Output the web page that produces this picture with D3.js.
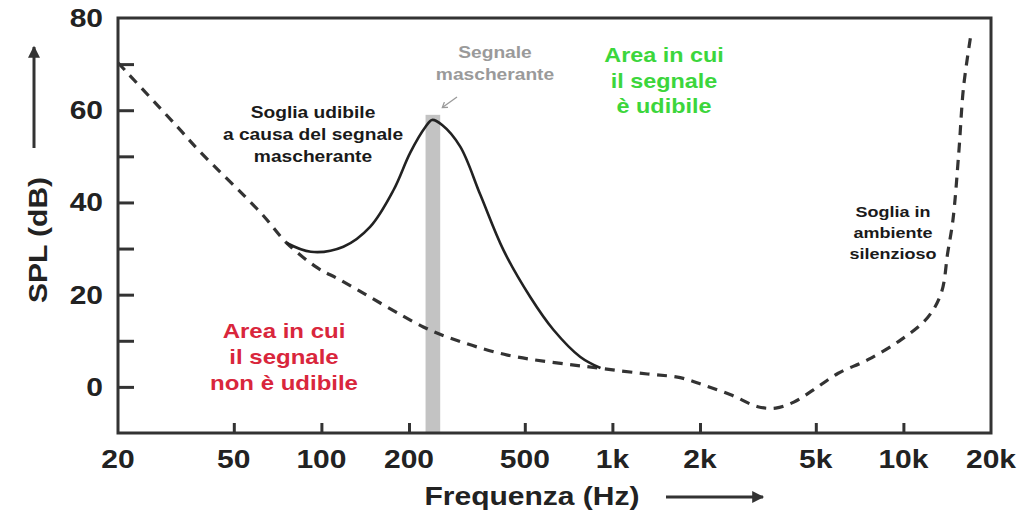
<!DOCTYPE html>
<html>
<head>
<meta charset="utf-8">
<script src="https://cdn.jsdelivr.net/npm/d3@7"></script>
<style>
  html, body { margin: 0; padding: 0; background: #fff; }
  svg text { font-family: "Liberation Sans", Arial, Helvetica, sans-serif; font-weight: bold; }
</style>
</head>
<body>
<svg id="chart" width="1021" height="516"></svg>
<script>
// Threshold of hearing in quiet (dashed curve)
const quietFreq = [20, 32, 38, 62, 76, 97, 116, 224, 277, 436, 888, 1320, 1710, 2060, 2550, 3160, 3640, 4200, 4920, 5950, 7550, 9800, 12100, 13500, 14200, 14800, 15500, 16100, 17100];
const quietDb   = [70.3, 56.4, 51.2, 37.7, 31.2, 25.8, 23.2, 13.0, 10.6, 6.9, 4.1, 2.8, 2.0, 0.4, -1.7, -4.3, -4.6, -3.3, -0.6, 2.9, 5.9, 10.2, 15.0, 20.4, 29.1, 36.2, 50.8, 65.1, 76.8];

// Raised threshold caused by the masking tone (solid curve)
const maskedFreq = [76, 92, 119, 147, 177, 202, 228, 240, 260, 300, 352, 422, 522, 627, 776, 910];
const maskedDb   = [31.2, 29.3, 30.4, 34.7, 42.7, 50.8, 56.4, 57.9, 56.8, 52.1, 41.6, 29.7, 19.5, 12.4, 6.5, 4.1];

// Masking tone: frequency band and level
const maskerBand = [228, 256];
const maskerLevel = 59;

// Axis ticks
const xTickValues = [20, 50, 100, 200, 500, 1000, 2000, 5000, 10000, 20000];
const xTickLabels = ["20", "50", "100", "200", "500", "1k", "2k", "5k", "10k", "20k"];
const yTickValues = [0, 10, 20, 30, 40, 50, 60, 70];
const yLabelValues = [0, 20, 40, 60, 80];

const svg = d3.select("#chart");
const STRETCH = 1.2;   // wide lettering
const dark = "#333";

const x = d3.scaleLog().domain([20, 20000]).range([118, 991]);
const y = d3.scaleLinear().domain([-10, 80]).range([433, 18]);

// text helper: multi-line, centred, horizontally widened
function words(g, cx, baselines, lines, size, color, anchor = "middle") {
  lines.forEach((t, i) => {
    g.append("text")
      .attr("transform", `translate(${cx},${baselines[i]}) scale(${STRETCH},1)`)
      .attr("text-anchor", anchor)
      .attr("font-size", size)
      .attr("fill", color)
      .text(t);
  });
}

// masking tone bar
svg.append("rect")
  .attr("x", x(maskerBand[0]))
  .attr("width", x(maskerBand[1]) - x(maskerBand[0]))
  .attr("y", y(maskerLevel))
  .attr("height", y(-10) - y(maskerLevel))
  .attr("fill", "#c3c3c3");

const line = d3.line()
  .x(d => x(d[0]))
  .y(d => y(d[1]))
  .curve(d3.curveCatmullRom.alpha(0.5));

// quiet threshold
svg.append("path")
  .datum(quietFreq.map((f, i) => [f, quietDb[i]]))
  .attr("d", line)
  .attr("fill", "none")
  .attr("stroke", dark)
  .attr("stroke-width", 3.2)
  .attr("stroke-dasharray", "10 7.5");

// masked threshold
svg.append("path")
  .datum(maskedFreq.map((f, i) => [f, maskedDb[i]]))
  .attr("d", line)
  .attr("fill", "none")
  .attr("stroke", "#222")
  .attr("stroke-width", 2.6);

// frame
svg.append("rect")
  .attr("x", x.range()[0]).attr("y", y.range()[1])
  .attr("width", x.range()[1] - x.range()[0])
  .attr("height", y.range()[0] - y.range()[1])
  .attr("fill", "none")
  .attr("stroke", dark)
  .attr("stroke-width", 3);

// y axis (ticks pointing inward)
const yAxis = d3.axisLeft(y).tickValues(yTickValues).tickSize(-16).tickFormat("");
const gy = svg.append("g").attr("transform", `translate(${x.range()[0]},0)`).call(yAxis);
gy.select(".domain").remove();
gy.selectAll(".tick line").attr("stroke", dark).attr("stroke-width", 3);

yLabelValues.forEach(v => {
  svg.append("text")
    .attr("transform", `translate(103,${y(v) + 9}) scale(${STRETCH},1)`)
    .attr("text-anchor", "end")
    .attr("font-size", 25)
    .attr("fill", "#222")
    .text(v);
});

// x axis (ticks pointing inward)
const xAxis = d3.axisBottom(x).tickValues(xTickValues.slice(1, -1)).tickSize(-10).tickFormat("");
const gx = svg.append("g").attr("transform", `translate(0,${y.range()[0]})`).call(xAxis);
gx.select(".domain").remove();
gx.selectAll(".tick line").attr("stroke", dark).attr("stroke-width", 3);

xTickValues.forEach((v, i) => {
  svg.append("text")
    .attr("transform", `translate(${x(v)},468) scale(${STRETCH},1)`)
    .attr("text-anchor", "middle")
    .attr("font-size", 25)
    .attr("fill", "#222")
    .text(xTickLabels[i]);
});

// axis titles with arrows
svg.append("defs").append("marker")
  .attr("id", "head")
  .attr("viewBox", "0 0 10 10")
  .attr("refX", 9).attr("refY", 5)
  .attr("markerWidth", 17).attr("markerHeight", 12)
  .attr("markerUnits", "userSpaceOnUse")
  .attr("orient", "auto")
  .append("path").attr("d", "M0,0 L10,5 L0,10 Z").attr("fill", dark);

svg.append("text")
  .attr("transform", `translate(532,505) scale(${STRETCH},1)`)
  .attr("text-anchor", "middle")
  .attr("font-size", 25)
  .attr("fill", "#222")
  .text("Frequenza (Hz)");
svg.append("line")
  .attr("x1", 666).attr("y1", 497).attr("x2", 763).attr("y2", 497)
  .attr("stroke", dark).attr("stroke-width", 3)
  .attr("marker-end", "url(#head)");

svg.append("text")
  .attr("transform", `translate(47,240) rotate(-90) scale(${STRETCH},1)`)
  .attr("text-anchor", "middle")
  .attr("font-size", 25)
  .attr("fill", "#222")
  .text("SPL (dB)");
svg.append("line")
  .attr("x1", 34).attr("y1", 148).attr("x2", 34).attr("y2", 47)
  .attr("stroke", dark).attr("stroke-width", 3)
  .attr("marker-end", "url(#head)");

// annotations
const notes = svg.append("g");
words(notes, 313, [118, 140, 162], ["Soglia udibile", "a causa del segnale", "mascherante"], 16, "#1a1a1a");
words(notes, 495, [58, 80], ["Segnale", "mascherante"], 16, "#9a9a9a");
words(notes, 664, [62, 88, 113], ["Area in cui", "il segnale", "è udibile"], 19.5, "#3cd63c");
words(notes, 284, [338, 364, 390], ["Area in cui", "il segnale", "non è udibile"], 20, "#d9263c");
words(notes, 893, [217, 238, 259], ["Soglia in", "ambiente", "silenzioso"], 15, "#1a1a1a");

// small pointer from the masker label to the bar
svg.append("defs").append("marker")
  .attr("id", "tip")
  .attr("viewBox", "0 0 10 10")
  .attr("refX", 5).attr("refY", 5)
  .attr("markerWidth", 8).attr("markerHeight", 8)
  .attr("markerUnits", "userSpaceOnUse")
  .attr("orient", "auto")
  .append("path").attr("d", "M0,1 L6,5 L0,9").attr("fill", "none").attr("stroke", "#9a9a9a").attr("stroke-width", 1.6);
svg.append("line")
  .attr("x1", 457).attr("y1", 97).attr("x2", 443).attr("y2", 107)
  .attr("stroke", "#9a9a9a").attr("stroke-width", 1.3)
  .attr("marker-end", "url(#tip)");
</script>
</body>
</html>
